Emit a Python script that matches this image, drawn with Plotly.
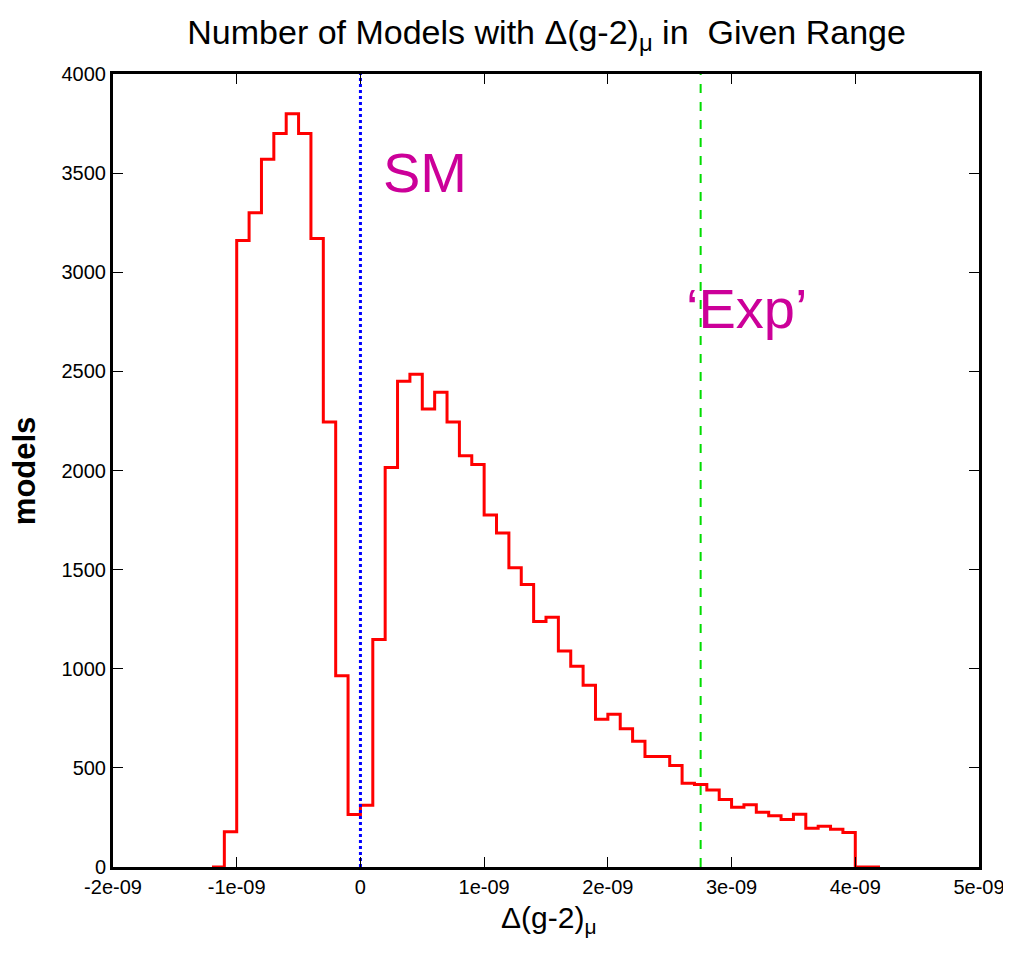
import plotly.graph_objects as go

# Histogram bins (left edges, units of 1e-9) and counts
bin_left_e9 = [-1.2, -1.1, -1.0, -0.9, -0.8, -0.7, -0.6, -0.5, -0.4, -0.3, -0.2, -0.1,
               0.0, 0.1, 0.2, 0.3, 0.4, 0.5, 0.6, 0.7, 0.8, 0.9, 1.0, 1.1, 1.2, 1.3,
               1.4, 1.5, 1.6, 1.7, 1.8, 1.9, 2.0, 2.1, 2.2, 2.3, 2.4, 2.5, 2.6, 2.7,
               2.8, 2.9, 3.0, 3.1, 3.2, 3.3, 3.4, 3.5, 3.6, 3.7, 3.8, 3.9, 4.0, 4.1]
counts = [0, 178, 3160, 3300, 3570, 3700, 3800, 3700, 3170, 2245, 965, 265,
          312, 1148, 2015, 2450, 2485, 2310, 2395, 2245, 2075, 2030, 1775, 1685, 1510, 1425,
          1238, 1260, 1090, 1013, 917, 745, 770, 697, 634, 557, 557, 512, 422, 416,
          389, 340, 301, 314, 276, 259, 239, 266, 196, 205, 191, 174, 0, 0]
bin_width_e9 = 0.1

sm_value = 0.0
exp_value = 2.75e-9

x_tickvals = [-2e-9, -1e-9, 0, 1e-9, 2e-9, 3e-9, 4e-9, 5e-9]
x_ticktext = ["-2e-09", "-1e-09", "0", "1e-09", "2e-09", "3e-09", "4e-09", "5e-09"]
y_tickvals = [0, 500, 1000, 1500, 2000, 2500, 3000, 3500, 4000]

edges = [b * 1e-9 for b in bin_left_e9] + [(bin_left_e9[-1] + bin_width_e9) * 1e-9]
ys = counts + [counts[-1]]

magenta = "rgb(204,0,153)"

fig = go.Figure()
fig.add_trace(go.Scatter(x=edges, y=ys, mode="lines", line=dict(shape="hv", color="red", width=3),
                         showlegend=False, hoverinfo="skip"))
fig.add_trace(go.Scatter(x=[sm_value, sm_value], y=[0, 4000], mode="lines",
                         line=dict(color="blue", width=3, dash="dot"), showlegend=False))
fig.add_trace(go.Scatter(x=[exp_value, exp_value], y=[0, 4000], mode="lines",
                         line=dict(color="rgb(0,220,0)", width=2, dash="dash"), showlegend=False))

fig.add_annotation(x=0.52e-9, y=3505, text="SM", showarrow=False,
                   font=dict(family="Liberation Sans, Arial", size=56, color=magenta),
                   xanchor="center", yanchor="middle")
fig.add_annotation(x=3.12e-9, y=2815, text="\u2018Exp\u2019", showarrow=False,
                   font=dict(family="Liberation Sans, Arial", size=56, color=magenta),
                   xanchor="center", yanchor="middle")
fig.add_annotation(xref="paper", yref="paper", x=-0.102, y=0.50, text="<b>models</b>",
                   textangle=-90, showarrow=False, xanchor="center", yanchor="middle",
                   font=dict(family="Liberation Sans, Arial", size=31, color="black"))
fig.add_annotation(xref="paper", yref="paper", x=0.504, y=-0.066,
                   text="\u0394(g-2)<sub>\u03bc</sub>", showarrow=False,
                   xanchor="center", yanchor="middle",
                   font=dict(family="Liberation Sans, Arial", size=30, color="black"))

fig.update_layout(
    width=1003, height=951,
    margin=dict(l=105, r=32, t=66, b=92),
    paper_bgcolor="white", plot_bgcolor="white",
    title=dict(text="Number of Models with \u0394(g-2)<sub>\u03bc</sub> in  Given Range",
               x=0.537, xanchor="center", y=0.975, yanchor="middle",
               font=dict(family="Liberation Sans, Arial", size=34, color="black")),
    font=dict(family="Liberation Sans, Arial", color="black"),
)
fig.update_xaxes(range=[-2e-9, 5e-9], tickvals=x_tickvals, ticktext=x_ticktext, automargin=False,
                 showgrid=False, zeroline=False, showline=True, linecolor="black", linewidth=3,
                 mirror="ticks", ticks="inside", ticklen=10, tickwidth=1, tickcolor="black",
                 tickfont=dict(size=20, family="Liberation Sans"))
fig.update_yaxes(range=[0, 4000], tickvals=y_tickvals, automargin=False,
                 showgrid=False, zeroline=False, showline=True, linecolor="black", linewidth=3,
                 mirror="ticks", ticks="inside", ticklen=10, tickwidth=1, tickcolor="black",
                 tickfont=dict(size=20, family="Liberation Sans"))

fig.write_html("out.html")
